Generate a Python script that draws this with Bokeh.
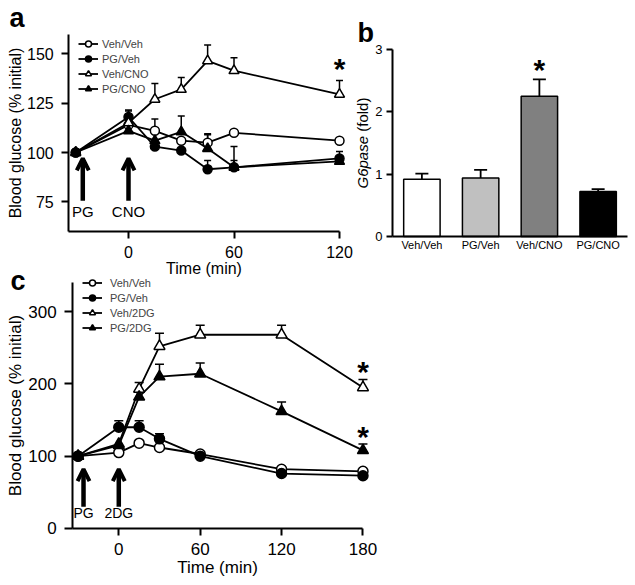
import math
from bokeh.plotting import figure
from bokeh.layouts import column, row
from bokeh.models import (ColumnDataSource, Whisker, TeeHead, Legend, LegendItem,
                          Label, Arrow, OpenHead, FixedTicker)
from bokeh.core.properties import value
from bokeh.embed import file_html
from bokeh.resources import INLINE

FONT = "Liberation Sans"

# ---------------- data: panel a ----------------
t_a = [-30, 0, 15, 30, 45, 60, 120]
a_veh_veh = [100, 114, 111, 106, 105, 110, 106]
a_veh_veh_sem = [0, 7, 6, 0, 4.5, 0, 0]
a_pg_veh = [100, 118, 103, 101, 91.5, 92.5, 97]
a_pg_veh_sem = [0, 3.5, 0, 0, 4.5, 3.5, 3.5]
a_veh_cno = [100, 115, 127, 132, 146.5, 141.5, 129.5]
a_veh_cno_sem = [0, 4, 8, 6, 8, 6.5, 7]
a_pg_cno = [100, 111, 106, 110.5, 102, 92.5, 95.5]
a_pg_cno_sem = [0, 3, 4, 8, 7, 10.5, 0]
a_labels = ["Veh/Veh", "PG/Veh", "Veh/CNO", "PG/CNO"]
a_xticks = [0, 60, 120]
a_yticks = [75, 100, 125, 150]
a_arrow_t = [-26, 0]
a_arrow_text = ["PG", "CNO"]
a_star_t = [120]
a_star_y = [143.5]

# ---------------- data: panel b ----------------
b_cats = ["Veh/Veh", "PG/Veh", "Veh/CNO", "PG/CNO"]
b_g6pase = [0.92, 0.94, 2.25, 0.72]
b_g6pase_sem = [0.09, 0.13, 0.27, 0.04]
b_yticks = [0, 1, 2, 3]
b_star_cat = ["Veh/CNO"]
b_star_y = [2.71]

# ---------------- data: panel c ----------------
t_c = [-30, 0, 15, 30, 60, 120, 180]
c_veh_veh = [100, 105, 118, 112, 103, 82, 79]
c_veh_veh_sem = [0, 0, 0, 0, 0, 0, 0]
c_pg_veh = [100, 140, 140, 124, 100, 76, 73]
c_pg_veh_sem = [0, 9, 9, 7, 0, 0, 0]
c_veh_2dg = [100, 117, 193, 252, 268, 268, 195]
c_veh_2dg_sem = [0, 0, 9, 18, 13, 13, 11]
c_pg_2dg = [100, 115, 182, 210, 214, 162, 108]
c_pg_2dg_sem = [0, 0, 0, 17, 15, 13, 9]
c_labels = ["Veh/Veh", "PG/Veh", "Veh/2DG", "PG/2DG"]
c_xticks = [0, 60, 120, 180]
c_yticks = [0, 100, 200, 300]
c_arrow_t = [-26, 0]
c_arrow_text = ["PG", "2DG"]
c_star_t = [180, 180]
c_star_y = [220, 130]


def style_axis(ax, tick_size, label_size, tick_out, label_standoff, axis_label_standoff):
    ax.axis_line_width = 2
    ax.axis_line_color = "black"
    ax.major_tick_line_width = 2
    ax.major_tick_line_color = "black"
    ax.major_tick_out = tick_out
    ax.major_tick_in = 0
    ax.minor_tick_out = 0
    ax.minor_tick_in = 0
    ax.major_label_text_font = FONT
    ax.major_label_text_font_size = tick_size
    ax.major_label_text_color = "black"
    ax.major_label_standoff = label_standoff
    ax.axis_label_text_font = FONT
    ax.axis_label_text_font_size = label_size
    ax.axis_label_text_font_style = "normal"
    ax.axis_label_text_color = "black"
    ax.axis_label_standoff = axis_label_standoff


def make_fig(width, height, xr, yr, **kw):
    p = figure(width=width, height=height, x_range=xr, y_range=yr,
               output_backend="svg", toolbar_location=None,
               min_border_left=0, min_border_right=0, min_border_top=0,
               min_border_bottom=0, **kw)
    p.grid.visible = False
    p.outline_line_color = None
    p.title.visible = False
    return p


STYLES = [("circle", "white"), ("circle", "black"), ("triangle", "white"), ("triangle", "black")]


def series_panel(p, t, ys, sems, labels, cap, msizes, legend_xy, standoff):
    line_rs = []
    for y, s in zip(ys, sems):
        lr = p.line(t, y, line_color="black", line_width=1.8)
        line_rs.append(lr)
        et = [ti for ti, si in zip(t, s) if si > 0]
        lo = [yi for yi, si in zip(y, s) if si > 0]
        hi = [yi + si for yi, si in zip(y, s) if si > 0]
        if et:
            p.add_layout(Whisker(source=ColumnDataSource(dict(t=et, lo=lo, hi=hi)),
                                 base="t", lower="lo", upper="hi", dimension="height",
                                 line_color="black", line_width=1.5,
                                 upper_head=TeeHead(size=cap, line_width=1.5,
                                                    line_color="black"),
                                 lower_head=None, level="underlay"))
    items = []
    for (mk, fill), y, lr, lab in zip(STYLES, ys, line_rs, labels):
        size = msizes[0] if mk == "circle" else msizes[1]
        sr = p.scatter(t, y, marker=mk, size=size, fill_color=fill,
                       line_color="black", line_width=1.5)
        items.append(LegendItem(label=lab, renderers=[lr, sr]))
    p.add_layout(Legend(items=items, location=legend_xy, glyph_width=20,
                        glyph_height=15, label_height=15, spacing=0, padding=0,
                        margin=0, label_standoff=standoff, label_text_font=FONT,
                        label_text_font_size="11px", background_fill_alpha=0,
                        border_line_color=None))


def arrows(p, ts, texts, y0, y1, ytext, fsize):
    for tt in ts:
        p.add_layout(Arrow(x_start=tt, y_start=y0, x_end=tt, y_end=y1,
                           line_width=4.5, line_color="black",
                           end=OpenHead(size=12, line_width=4, line_color="black")))
    p.text(x=ts, y=[ytext] * len(ts), text=texts, text_font=value(FONT),
           text_font_size=fsize, text_align="center", text_baseline="middle",
           text_color="black")


def stars(p, xs, ys):
    p.text(x=xs, y=ys, text=["*"] * len(xs), text_font=value(FONT),
           text_font_size="30px", text_font_style="bold", text_align="center",
           text_baseline="alphabetic", y_offset=2, text_color="black")


def letter(p, txt, x, y):
    p.add_layout(Label(x=x, y=y, text=txt, text_font=FONT, text_font_size="27px",
                       text_font_style="bold", text_baseline="alphabetic",
                       text_color="black"))


# ---------------- panel a ----------------
pa = make_fig(355, 278, (-72.8, 129.1), (36.1, 177.1))
pa.xaxis.fixed_location = 60
pa.xaxis.bounds = (-34, 120)
pa.yaxis.fixed_location = -34
pa.yaxis.bounds = (60, 160)
pa.xaxis.ticker = FixedTicker(ticks=a_xticks)
pa.yaxis.ticker = FixedTicker(ticks=a_yticks)
pa.xaxis.axis_label = "Time (min)"
pa.yaxis.axis_label = "Blood glucose (% initial)"
style_axis(pa.xaxis[0], "16px", "16px", 7, 8, -2)
style_axis(pa.yaxis[0], "16px", "16px", 7, 8, 0)
series_panel(pa, t_a, [a_veh_veh, a_pg_veh, a_veh_cno, a_pg_cno],
             [a_veh_veh_sem, a_pg_veh_sem, a_veh_cno_sem, a_pg_cno_sem],
             a_labels, 7, (9, 10), (78, 182), 4)
arrows(pa, a_arrow_t, a_arrow_text, 75.5, 97, 70.3, "15px")
stars(pa, a_star_t, a_star_y)
letter(pa, "a", -67.7, 168.0)

# ---------------- panel b ----------------
b_pos = [i + 0.5 for i in range(len(b_cats))]
pb = make_fig(279, 278, (-0.63, 4.119), (-0.674, 3.786))
pb.xaxis.fixed_location = 0
pb.xaxis.bounds = (0, 4)
pb.yaxis.fixed_location = 0
pb.yaxis.bounds = (0, 3)
pb.xaxis.ticker = FixedTicker(ticks=b_pos)
pb.xaxis.major_label_overrides = {pos: cat for pos, cat in zip(b_pos, b_cats)}
pb.yaxis.ticker = FixedTicker(ticks=b_yticks)
style_axis(pb.xaxis[0], "11px", "11px", 0, 3, 0)
style_axis(pb.yaxis[0], "13px", "13px", 6, 4, 0)
bar_colors = ["white", "#c0c0c0", "#808080", "black"]
pb.vbar(x=b_pos, top=b_g6pase, width=0.62, fill_color=bar_colors,
        line_color="black", line_width=1.5)
pb.add_layout(Whisker(source=ColumnDataSource(dict(
    c=b_pos, lo=b_g6pase, hi=[v + s for v, s in zip(b_g6pase, b_g6pase_sem)])),
    base="c", lower="lo", upper="hi", dimension="height",
    line_color="black", line_width=1.8,
    upper_head=TeeHead(size=13, line_width=1.8, line_color="black"),
    lower_head=None, level="underlay"))
stars(pb, [b_pos[b_cats.index(c)] for c in b_star_cat], b_star_y)
pb.add_layout(Label(x=-0.51, y=0.77, text="G6pase", angle=math.pi / 2,
                    text_font=FONT, text_font_size="15px", text_font_style="italic",
                    text_align="left", text_baseline="middle", text_color="black"))
pb.add_layout(Label(x=-0.51, y=1.68, text="(fold)", angle=math.pi / 2,
                    text_font=FONT, text_font_size="15px", text_align="left",
                    text_baseline="middle", text_color="black"))
letter(pb, "b", -0.596, 3.26)

# ---------------- panel c ----------------
pc = make_fig(390, 329, (-87.2, 200.3), (-77.5, 377.6),
              margin=(-23, 0, 0, 0), background_fill_color=None,
              border_fill_color=None)
pc.xaxis.fixed_location = 0
pc.xaxis.bounds = (-34, 180)
pc.yaxis.fixed_location = -34
pc.yaxis.bounds = (0, 340)
pc.xaxis.ticker = FixedTicker(ticks=c_xticks)
pc.yaxis.ticker = FixedTicker(ticks=c_yticks)
pc.xaxis.axis_label = "Time (min)"
pc.yaxis.axis_label = "Blood glucose (% initial)"
style_axis(pc.xaxis[0], "17px", "17px", 7, 8, -1)
style_axis(pc.yaxis[0], "17px", "17px", 8, 8, 0)
series_panel(pc, t_c, [c_veh_veh, c_pg_veh, c_veh_2dg, c_pg_2dg],
             [c_veh_veh_sem, c_pg_veh_sem, c_veh_2dg_sem, c_pg_2dg_sem],
             c_labels, 9, (10, 11), (82, 249), 8)
arrows(pc, c_arrow_t, c_arrow_text, 30, 82, 22, "14px")
stars(pc, c_star_t, c_star_y)
letter(pc, "c", -79.8, 343.0)

layout = column(row(pa, pb, spacing=0), pc, spacing=0)

with open("out.html", "w") as f:
    f.write(file_html(layout, INLINE))
